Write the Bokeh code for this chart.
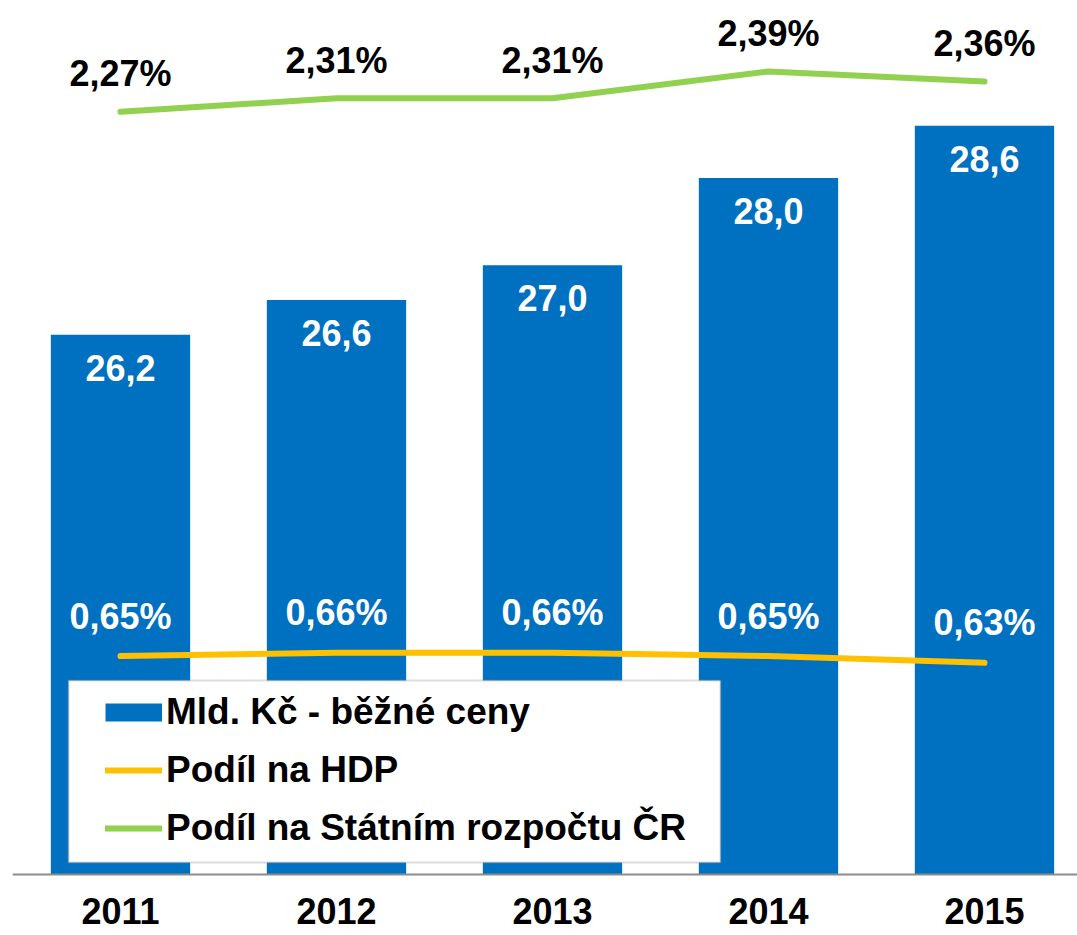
from bokeh.plotting import figure
from bokeh.models import Range1d, Legend, LegendItem, BoxAnnotation, FixedTicker
from bokeh.core.properties import value
from bokeh.embed import file_html
from bokeh.resources import INLINE

years = ["2011", "2012", "2013", "2014", "2015"]
mld_kc = [26.2, 26.6, 27.0, 28.0, 28.6]
podil_hdp = [0.65, 0.66, 0.66, 0.65, 0.63]
podil_sr = [2.27, 2.31, 2.31, 2.39, 2.36]

BLUE = "#0070C0"
YELLOW = "#FFC000"
GREEN = "#92D050"
FONT = "Liberation Sans"
FS = "36px"
BASE = 20

xs = list(range(len(years)))

p = figure(width=1077, height=935,
           x_range=Range1d(-0.5, 4.4306), y_range=Range1d(19.2992, 30.0402),
           output_backend="svg", toolbar_location=None, y_axis_location=None,
           min_border_left=12, min_border_right=0, min_border_top=0, min_border_bottom=0)
p.extra_y_ranges = {"pct": Range1d(-0.1815, 2.6012)}
p.outline_line_color = None
p.grid.visible = False

bars = p.vbar(x=xs, top=mld_kc, bottom=BASE, width=0.645, fill_color=BLUE, line_color=None)

l_hdp = p.line(xs, podil_hdp, y_range_name="pct", line_color=YELLOW, line_width=6,
               line_cap="round", line_join="round")
l_sr = p.line(xs, podil_sr, y_range_name="pct", line_color=GREEN, line_width=6,
              line_cap="round", line_join="round")

# value labels
p.text(x=xs, y=mld_kc, text=[f"{v:.1f}".replace(".", ",") for v in mld_kc],
       text_color="white", text_font=value(FONT), text_font_style="bold", text_font_size=FS,
       text_align="center", text_baseline="middle", y_offset=33)
p.text(x=xs, y=podil_hdp, y_range_name="pct", text=[f"{v:.2f}%".replace(".", ",") for v in podil_hdp],
       text_color="white", text_font=value(FONT), text_font_style="bold", text_font_size=FS,
       text_align="center", text_baseline="middle", y_offset=-40)
p.text(x=xs, y=podil_sr, y_range_name="pct", text=[f"{v:.2f}%".replace(".", ",") for v in podil_sr],
       text_color="black", text_font=value(FONT), text_font_style="bold", text_font_size=FS,
       text_align="center", text_baseline="middle", y_offset=-38)

# x axis
ax = p.xaxis[0]
ax.fixed_location = BASE
ax.ticker = FixedTicker(ticks=xs)
ax.major_label_overrides = {i: y for i, y in zip(xs, years)}
ax.major_tick_line_color = None
ax.minor_tick_line_color = None
ax.major_tick_out = 0
ax.major_tick_in = 0
ax.axis_line_color = "#8c8c8c"
ax.axis_line_width = 2
ax.major_label_standoff = 24
ax.major_label_text_font = FONT
ax.major_label_text_font_style = "bold"
ax.major_label_text_font_size = FS
ax.major_label_text_color = "black"

# legend box
box = BoxAnnotation(left=56, right=708, bottom=73, top=255,
                    left_units="screen", right_units="screen", top_units="screen", bottom_units="screen",
                    fill_color="white", fill_alpha=1.0, line_color="#8c8c8c", line_width=2, level="annotation")
p.add_layout(box)

nan = float("nan")
bar_key = p.line(x=[nan], y=[nan], line_color=BLUE, line_width=18, line_cap="butt")

legend = Legend(items=[LegendItem(label="Mld. Kč - běžné ceny", renderers=[bar_key]),
                       LegendItem(label="Podíl na HDP", renderers=[l_hdp]),
                       LegendItem(label="Podíl na Státním rozpočtu ČR", renderers=[l_sr])],
                location=(93, 85), orientation="vertical",
                label_text_font=FONT, label_text_font_style="bold", label_text_font_size="37px",
                label_text_color="black", glyph_width=57, glyph_height=44, label_height=44,
                spacing=14, label_standoff=4, padding=0, margin=0,
                border_line_alpha=0, background_fill_alpha=0)
p.add_layout(legend)

open("out.html", "w").write(file_html(p, INLINE))
